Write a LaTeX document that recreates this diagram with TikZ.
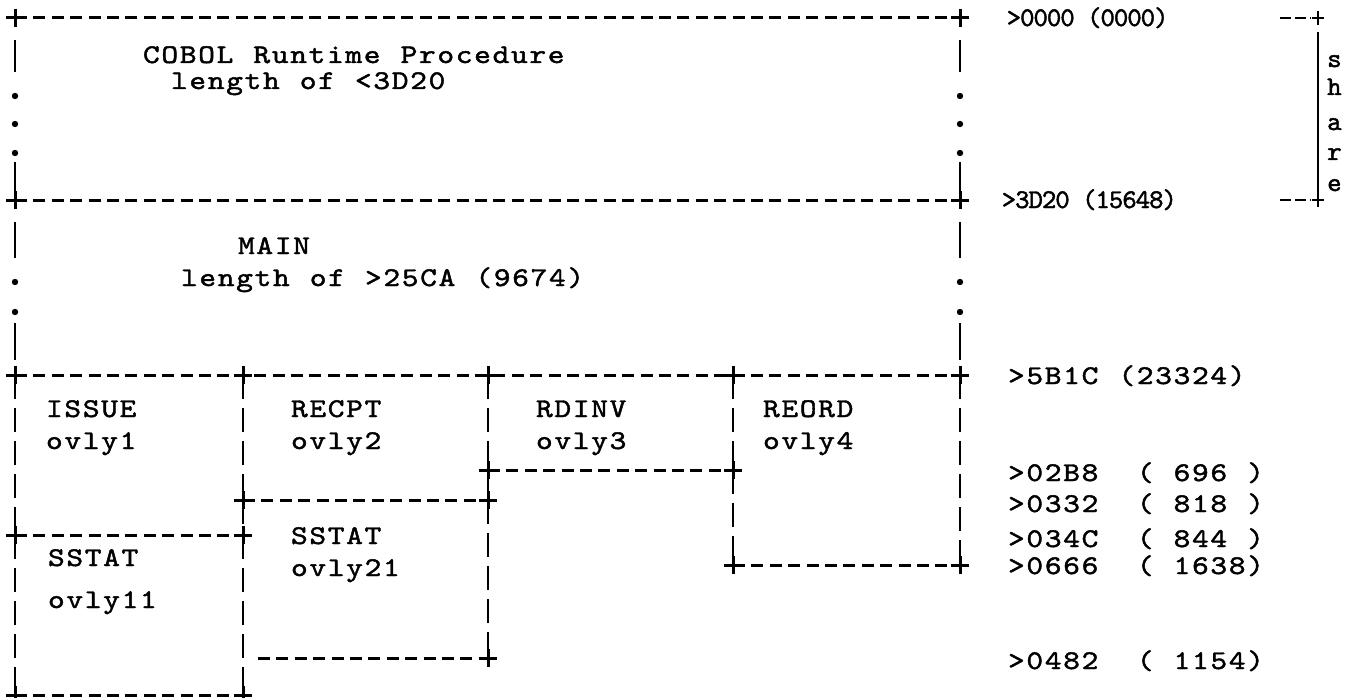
\documentclass[tikz,border=0pt]{standalone}
\usepackage{fontspec}
\usetikzlibrary{calc}
\newfontfamily\tw{lmmono10-regular.otf}[FakeBold=1.6, FakeStretch=1.18]
\newfontfamily\tws{lmmono10-regular.otf}[FakeBold=1.6, FakeStretch=1.02]
\newlength\tpitch
\makeatletter
\newcommand\typed[2]{\setlength\tpitch{#1}\@tfor\tch:=#2\do{\makebox[\tpitch][c]{\tch}}}
\makeatother
\begin{document}
\begin{tikzpicture}[x=1pt,y=-1pt,
  hdash/.style={line width=3pt, dash pattern=on 12pt off 6.4pt},
  vdash/.style={line width=2.8pt, dash pattern=on 24pt off 9pt},
  vbar/.style={line width=2.8pt},
  big/.style={font=\fontsize{27}{32}\tw, inner sep=0pt, anchor=base west},
  small/.style={font=\fontsize{27}{32}\tws, inner sep=0pt, anchor=base west},
  crossmark/.pic={\draw[line width=3pt] (-9,0)--(9,0) (0,-9)--(0,9);},
  smallcross/.pic={\draw[line width=2.4pt] (-6,0)--(6,0) (0,-7)--(0,7);}
]
\useasboundingbox (0,0) rectangle (1347,698);
% corner coordinates
\coordinate (A0) at (15,18);  \coordinate (A1) at (960,18);
\coordinate (B0) at (15,200); \coordinate (B1) at (960,200);
\coordinate (C0) at (15,375); \coordinate (C1) at (243,375); \coordinate (C2) at (488,375);
\coordinate (C3) at (733,375); \coordinate (C4) at (960,375);
\coordinate (E2) at (488,470); \coordinate (E3) at (733,470);
\coordinate (D1) at (243,500); \coordinate (D2) at (488,500);
\coordinate (F0) at (15,535); \coordinate (F1) at (243,535);
\coordinate (G3) at (733,565); \coordinate (G4) at (960,565);
\coordinate (H1) at (258,658); \coordinate (H2) at (488,658);
\coordinate (K0) at (15,695); \coordinate (K1) at (243,695);
% horizontal dashed borders
\draw[hdash] (A0) -- (A1);
\draw[hdash] (B0) -- (B1);
\draw[hdash] (C0) -- (C4);
\draw[hdash] (E2) -- (E3);
\draw[hdash] (D1) -- (D2);
\draw[hdash] (F0) -- (F1);
\draw[hdash] (G3) -- (G4);
\draw[hdash] (H1) -- (H2);
\draw[hdash] (K0) -- (K1);
% upper borders with bars and dots
\foreach \x in {15,960}{
  \draw[vbar] (\x,40) -- (\x,72);
  \draw[vbar] (\x,162) -- (\x,192);
  \foreach \y in {96,124,153} \fill (\x,\y) circle[radius=3.2pt];
  \draw[vbar] (\x,222) -- (\x,258);
  \foreach \y in {282,312} \fill (\x,\y) circle[radius=3.2pt];
  \draw[vbar] (\x,323) -- (\x,360);
}
% lower verticals
\draw[vdash] (C0) -- (F0);
\draw[vdash] (F0) -- (K0);
\draw[vdash] (C1) -- (D1);
\draw[vdash] (D1) -- (F1);
\draw[vdash] (F1) -- (K1);
\draw[vdash] (C2) -- (E2);
\draw[vdash] (E2) -- (D2);
\draw[vdash] (D2) -- (H2);
\draw[vdash] (C3) -- (E3);
\draw[vdash] (E3) -- (G3);
\draw[vdash] (C4) -- (G4);
% crosses
\foreach \n in {A0,A1,B0,B1,C0,C1,C2,C3,C4,E2,E3,D1,D2,F0,F1,G3,G4,H2,K0,K1}
  \path (\n) pic{crossmark};
% share bracket
\coordinate (S0) at (1318,18); \coordinate (S1) at (1318,200);
\coordinate (s0) at (1280,18); \coordinate (s1) at (1280,200);
\draw[line width=2.6pt, dash pattern=on 11pt off 4pt] (s0) -- (1311,18);
\draw[line width=2.6pt, dash pattern=on 11pt off 4pt] (s1) -- (1311,200);
\draw[line width=2.2pt] ($(S0)+(0,14)$) -- ($(S1)+(0,-6)$);
\path (S0) pic{smallcross};
\path (S1) pic{smallcross};
% texts
\node[big] (cobol) at (142,63) {\typed{18.4pt}{COBOL~Runtime~Procedure}};
\node[big] (len1) at (170,89) {\typed{18.4pt}{length~of~<3D20}};
\node[big] (main) at (237,254) {\typed{18.4pt}{MAIN}};
\node[big] (len2) at (180,286) {\typed{18.4pt}{length~of~>25CA~(9674)}};
\node[big] (issue) at (45,417) {\typed{18.4pt}{ISSUE}};
\node[big] (ov1) at (45,449) {\typed{18.4pt}{ovly1}};
\node[big] (recpt) at (290,417) {\typed{18.4pt}{RECPT}};
\node[big] (ov2) at (290,449) {\typed{18.4pt}{ovly2}};
\node[big] (rdinv) at (535,417) {\typed{18.4pt}{RDINV}};
\node[big] (ov3) at (535,449) {\typed{18.4pt}{ovly3}};
\node[big] (reord) at (762,417) {\typed{18.4pt}{REORD}};
\node[big] (ov4) at (762,449) {\typed{18.4pt}{ovly4}};
\node[big] (sstat2) at (290,544) {\typed{18.4pt}{SSTAT}};
\node[big] (ov21) at (290,576) {\typed{18.4pt}{ovly21}};
\node[big] (sstat1) at (47,566) {\typed{18.4pt}{SSTAT}};
\node[big] (ov11) at (47,608) {\typed{18.4pt}{ovly11}};
% addresses
\node[small] (a0) at (1007,26) {\typed{13.4pt}{>0000~(0000)}};
\node[small] (a1) at (1002,208) {\typed{13.4pt}{>3D20~(15648)}};
\node[big] (a2) at (1007,384) {\typed{18.4pt}{>5B1C~(23324)}};
\node[big] (a3) at (1007,481) {\typed{18.4pt}{>02B8~~(~696~)}};
\node[big] (a4) at (1007,512) {\typed{18.4pt}{>0332~~(~818~)}};
\node[big] (a5) at (1007,547) {\typed{18.4pt}{>034C~~(~844~)}};
\node[big] (a6) at (1007,574) {\typed{18.4pt}{>0666~~(~1638)}};
\node[big] (a7) at (1007,669) {\typed{18.4pt}{>0482~~(~1154)}};
% share letters
\node[small] (ls) at (1327,67) {s};
\node[small] (lh) at (1327,95) {h};
\node[small] (la) at (1327,130) {a};
\node[small] (lr) at (1327,160) {r};
\node[small] (le) at (1327,191) {e};
\end{tikzpicture}
\end{document}
